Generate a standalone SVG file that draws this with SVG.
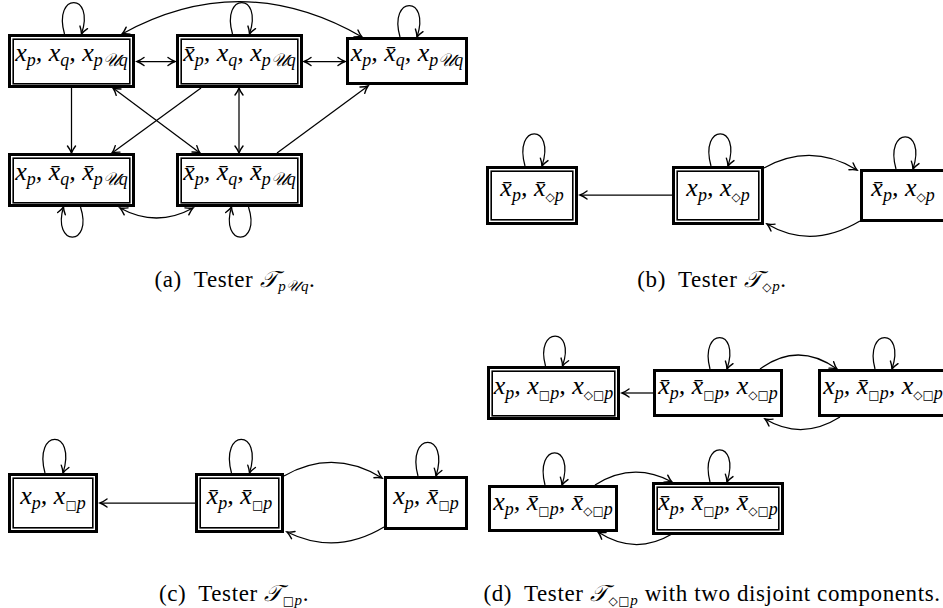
<svg xmlns="http://www.w3.org/2000/svg" width="943" height="608" viewBox="0 0 943 608">
<style>
.o{fill:#fff;stroke:#000;stroke-width:3}
.i{fill:none;stroke:#000;stroke-width:1.6}
.c{fill:none;stroke:#000;stroke-width:1.25}
.lbl{font-family:"Liberation Serif",serif;font-style:italic;font-size:26px;text-anchor:middle}
.s{font-size:18px}
.sym{font-family:"DejaVu Sans",sans-serif;font-style:normal;font-size:12px}
.cap{font-family:"Liberation Serif",serif;font-size:23px;letter-spacing:0.6px;text-anchor:middle}
.capm{font-style:italic}
</style>
<defs>
<marker id="ah" viewBox="-9 -6 11 12" refX="0" refY="0" markerWidth="11" markerHeight="12" orient="auto-start-reverse" markerUnits="userSpaceOnUse">
<path d="M-7,-4 Q-3,-1 0,0 Q-3,1 -7,4" fill="none" stroke="#000" stroke-width="1.4" stroke-linecap="round"/>
</marker>
</defs>
<rect width="943" height="608" fill="#fff"/>

<g id="connectors">
<path class="c" d="M137,61.5 L175,61.5" marker-start="url(#ah)" marker-end="url(#ah)"/>
<path class="c" d="M304,61.5 L345,61.5" marker-start="url(#ah)" marker-end="url(#ah)"/>
<path class="c" d="M122,34 Q242,-32 362,37" marker-start="url(#ah)" marker-end="url(#ah)"/>
<path class="c" d="M71.5,88 L71.5,153" marker-end="url(#ah)"/>
<path class="c" d="M201,88 L112,153" marker-end="url(#ah)"/>
<path class="c" d="M113,88 L200,153" marker-start="url(#ah)" marker-end="url(#ah)"/>
<path class="c" d="M239,88 L239,153" marker-start="url(#ah)" marker-end="url(#ah)"/>
<path class="c" d="M277,153 L368,86" marker-end="url(#ah)"/>
<path class="c" d="M120,208 Q156.5,228 193,208" marker-start="url(#ah)" marker-end="url(#ah)"/>
<path class="c" d="M672,195 L580,195" marker-end="url(#ah)"/>
<path class="c" d="M764,168 Q811,142 857,170" marker-end="url(#ah)"/>
<path class="c" d="M860,221 Q811,250 767,224" marker-end="url(#ah)"/>
<path class="c" d="M195,503 L100,503" marker-end="url(#ah)"/>
<path class="c" d="M284,476 Q333,448 382,478" marker-end="url(#ah)"/>
<path class="c" d="M384,527 Q336,556 287,532" marker-end="url(#ah)"/>
<path class="c" d="M653,393 L622,393" marker-end="url(#ah)"/>
<path class="c" d="M760,369 Q798,341 837,369" marker-end="url(#ah)"/>
<path class="c" d="M840,417 Q802,441 765,419" marker-end="url(#ah)"/>
<path class="c" d="M595,485 Q633,461 672,482" marker-end="url(#ah)"/>
<path class="c" d="M672,534 Q635,556 598,532" marker-end="url(#ah)"/>
<path class="c" transform="translate(71.5,34)" d="M-7,0 C-19,-42 24,-42 10,0" marker-end="url(#ah)"/>
<path class="c" transform="translate(239.5,34)" d="M-7,0 C-19,-42 24,-42 10,0" marker-end="url(#ah)"/>
<path class="c" transform="translate(407,37)" d="M-7,0 C-19,-42 24,-42 10,0" marker-end="url(#ah)"/>
<path class="c" transform="translate(532,166)" d="M-7,0 C-19,-43 24,-43 10,0" marker-end="url(#ah)"/>
<path class="c" transform="translate(718,166)" d="M-7,0 C-19,-43 24,-43 10,0" marker-end="url(#ah)"/>
<path class="c" transform="translate(903,169)" d="M-7,0 C-19,-43 24,-43 10,0" marker-end="url(#ah)"/>
<path class="c" transform="translate(53,473)" d="M-8,0 C-20,-45 24,-45 10,0" marker-end="url(#ah)"/>
<path class="c" transform="translate(239.5,473)" d="M-8,0 C-20,-45 24,-45 10,0" marker-end="url(#ah)"/>
<path class="c" transform="translate(426,476)" d="M-8,0 C-20,-45 24,-45 10,0" marker-end="url(#ah)"/>
<path class="c" transform="translate(553.5,366)" d="M-8,0 C-19,-40 23,-40 9,0" marker-end="url(#ah)"/>
<path class="c" transform="translate(718,369)" d="M-8,0 C-19,-42 23,-42 9,0" marker-end="url(#ah)"/>
<path class="c" transform="translate(883,369)" d="M-8,0 C-19,-42 23,-42 9,0" marker-end="url(#ah)"/>
<path class="c" transform="translate(553,485)" d="M-8,0 C-19,-43 23,-43 9,0" marker-end="url(#ah)"/>
<path class="c" transform="translate(718,482)" d="M-8,0 C-19,-43 23,-43 9,0" marker-end="url(#ah)"/>
<path class="c" transform="translate(71.5,207)" d="M9,0 C22,40 -20,40 -8,0" marker-end="url(#ah)"/>
<path class="c" transform="translate(239.5,207)" d="M9,0 C22,40 -20,40 -8,0" marker-end="url(#ah)"/>
</g>

<g id="nA">
<rect class="o" x="9.5" y="35.5" width="124" height="51"/><rect class="i" x="13.2" y="39.2" width="116.6" height="44.6"/>
<text class="lbl" x="71.5" y="61">x<tspan class="s" dy="5">p</tspan><tspan dy="-5">, x</tspan><tspan class="s" dy="5">q</tspan><tspan dy="-5">, x</tspan><tspan class="s" dy="5">p𝒰q</tspan></text>
</g>
<g id="nB">
<rect class="o" x="177.5" y="35.5" width="124" height="51"/><rect class="i" x="181.2" y="39.2" width="116.6" height="44.6"/>
<text class="lbl" x="239.5" y="61">x&#x304;<tspan class="s" dy="5">p</tspan><tspan dy="-5">, x</tspan><tspan class="s" dy="5">q</tspan><tspan dy="-5">, x</tspan><tspan class="s" dy="5">p𝒰q</tspan></text>
</g>
<g id="nC">
<rect class="o" x="347.5" y="38.5" width="119" height="45"/>
<text class="lbl" x="407" y="61">x<tspan class="s" dy="5">p</tspan><tspan dy="-5">, x&#x304;</tspan><tspan class="s" dy="5">q</tspan><tspan dy="-5">, x</tspan><tspan class="s" dy="5">p𝒰q</tspan></text>
</g>
<g id="nD">
<rect class="o" x="9.5" y="154.5" width="124" height="51"/><rect class="i" x="13.2" y="158.2" width="116.6" height="44.6"/>
<text class="lbl" x="71.5" y="180">x<tspan class="s" dy="5">p</tspan><tspan dy="-5">, x&#x304;</tspan><tspan class="s" dy="5">q</tspan><tspan dy="-5">, x&#x304;</tspan><tspan class="s" dy="5">p𝒰q</tspan></text>
</g>
<g id="nE">
<rect class="o" x="177.5" y="154.5" width="124" height="51"/><rect class="i" x="181.2" y="158.2" width="116.6" height="44.6"/>
<text class="lbl" x="239.5" y="180">x&#x304;<tspan class="s" dy="5">p</tspan><tspan dy="-5">, x&#x304;</tspan><tspan class="s" dy="5">q</tspan><tspan dy="-5">, x&#x304;</tspan><tspan class="s" dy="5">p𝒰q</tspan></text>
</g>

<g id="nF">
<rect class="o" x="487.5" y="167.5" width="89" height="56"/><rect class="i" x="491.2" y="171.2" width="81.6" height="48.6"/>
<text class="lbl" x="532" y="196">x&#x304;<tspan class="s" dy="5">p</tspan><tspan dy="-5">, x&#x304;</tspan><tspan class="s" dy="5"><tspan class="sym">◇</tspan>p</tspan></text>
</g>
<g id="nG">
<rect class="o" x="673.5" y="167.5" width="89" height="56"/><rect class="i" x="677.2" y="171.2" width="81.6" height="48.6"/>
<text class="lbl" x="718" y="196">x<tspan class="s" dy="5">p</tspan><tspan dy="-5">, x</tspan><tspan class="s" dy="5"><tspan class="sym">◇</tspan>p</tspan></text>
</g>
<g id="nP">
<rect class="o" x="861.5" y="170.5" width="83" height="50"/>
<text class="lbl" x="903" y="196">x&#x304;<tspan class="s" dy="5">p</tspan><tspan dy="-5">, x</tspan><tspan class="s" dy="5"><tspan class="sym">◇</tspan>p</tspan></text>
</g>

<g id="nH">
<rect class="o" x="9.5" y="474.5" width="87" height="57"/><rect class="i" x="13.2" y="478.2" width="79.6" height="49.6"/>
<text class="lbl" x="53" y="504">x<tspan class="s" dy="5">p</tspan><tspan dy="-5">, x</tspan><tspan class="s" dy="5"><tspan class="sym">□</tspan>p</tspan></text>
</g>
<g id="nI">
<rect class="o" x="196.5" y="474.5" width="86" height="57"/><rect class="i" x="200.2" y="478.2" width="78.6" height="49.6"/>
<text class="lbl" x="239.5" y="504">x&#x304;<tspan class="s" dy="5">p</tspan><tspan dy="-5">, x&#x304;</tspan><tspan class="s" dy="5"><tspan class="sym">□</tspan>p</tspan></text>
</g>
<g id="nJ">
<rect class="o" x="385.5" y="477.5" width="81" height="51"/>
<text class="lbl" x="426" y="504">x<tspan class="s" dy="5">p</tspan><tspan dy="-5">, x&#x304;</tspan><tspan class="s" dy="5"><tspan class="sym">□</tspan>p</tspan></text>
</g>

<g id="nK">
<rect class="o" x="488.5" y="367.5" width="130" height="51"/><rect class="i" x="492.2" y="371.2" width="122.6" height="44.6"/>
<text class="lbl" x="553.5" y="394">x<tspan class="s" dy="5">p</tspan><tspan dy="-5">, x</tspan><tspan class="s" dy="5"><tspan class="sym">□</tspan>p</tspan><tspan dy="-5">, x</tspan><tspan class="s" dy="5"><tspan class="sym">◇□</tspan>p</tspan></text>
</g>
<g id="nL">
<rect class="o" x="654.5" y="370.5" width="127" height="45"/>
<text class="lbl" x="718" y="394">x&#x304;<tspan class="s" dy="5">p</tspan><tspan dy="-5">, x&#x304;</tspan><tspan class="s" dy="5"><tspan class="sym">□</tspan>p</tspan><tspan dy="-5">, x</tspan><tspan class="s" dy="5"><tspan class="sym">◇□</tspan>p</tspan></text>
</g>
<g id="nM">
<rect class="o" x="819.5" y="370.5" width="127" height="45"/>
<text class="lbl" x="883" y="394">x<tspan class="s" dy="5">p</tspan><tspan dy="-5">, x&#x304;</tspan><tspan class="s" dy="5"><tspan class="sym">□</tspan>p</tspan><tspan dy="-5">, x</tspan><tspan class="s" dy="5"><tspan class="sym">◇□</tspan>p</tspan></text>
</g>
<g id="nN">
<rect class="o" x="489.5" y="486.5" width="127" height="44"/>
<text class="lbl" x="553" y="510">x<tspan class="s" dy="5">p</tspan><tspan dy="-5">, x&#x304;</tspan><tspan class="s" dy="5"><tspan class="sym">□</tspan>p</tspan><tspan dy="-5">, x&#x304;</tspan><tspan class="s" dy="5"><tspan class="sym">◇□</tspan>p</tspan></text>
</g>
<g id="nO">
<rect class="o" x="653.5" y="483.5" width="129" height="50"/><rect class="i" x="657.2" y="487.2" width="121.6" height="42.6"/>
<text class="lbl" x="718" y="510">x&#x304;<tspan class="s" dy="5">p</tspan><tspan dy="-5">, x&#x304;</tspan><tspan class="s" dy="5"><tspan class="sym">□</tspan>p</tspan><tspan dy="-5">, x&#x304;</tspan><tspan class="s" dy="5"><tspan class="sym">◇□</tspan>p</tspan></text>
</g>

<g id="captions">
<text class="cap" x="235" y="287">(a)<tspan dx="12">Tester </tspan><tspan class="capm">𝒯</tspan><tspan class="capm" font-size="15" dy="4">p𝒰q</tspan><tspan dy="-4">.</tspan></text>
<text class="cap" x="712" y="287">(b)<tspan dx="12">Tester </tspan><tspan class="capm">𝒯</tspan><tspan font-size="15" dy="4"><tspan class="sym" font-size="11">◇</tspan><tspan class="capm">p</tspan></tspan><tspan dy="-4">.</tspan></text>
<text class="cap" x="234" y="601">(c)<tspan dx="12">Tester </tspan><tspan class="capm">𝒯</tspan><tspan font-size="15" dy="4"><tspan class="sym" font-size="10">□</tspan><tspan class="capm">p</tspan></tspan><tspan dy="-4">.</tspan></text>
<text class="cap" x="712" y="601">(d)<tspan dx="12">Tester </tspan><tspan class="capm">𝒯</tspan><tspan font-size="15" dy="4"><tspan class="sym" font-size="10">◇□</tspan><tspan class="capm">p</tspan></tspan><tspan dy="-4"> with two disjoint components.</tspan></text>
</g>
</svg>
